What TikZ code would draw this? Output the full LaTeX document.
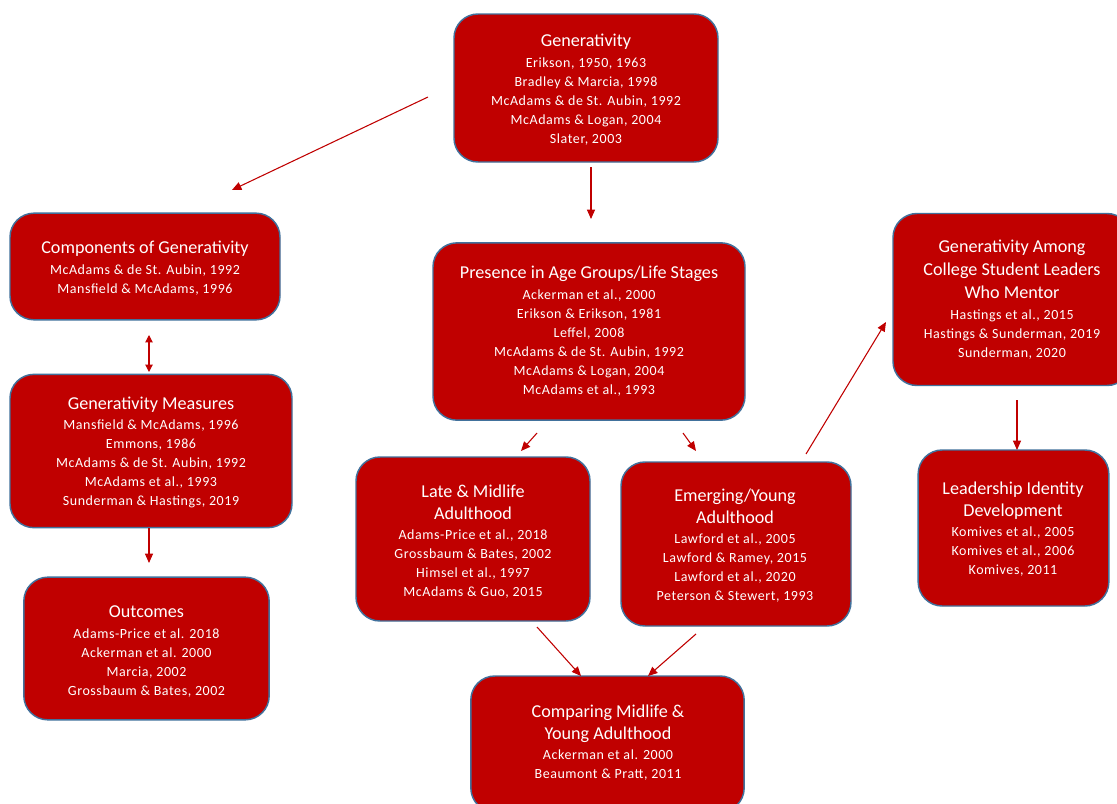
\documentclass[tikz,border=0pt]{standalone}
\usepackage{fontspec}
\setmainfont{Carlito}
\newfontfamily\refspaced{Carlito}[LetterSpace=4]
\usetikzlibrary{arrows.meta}
\definecolor{boxred}{HTML}{C00000}
\definecolor{boxedge}{HTML}{41719C}
\definecolor{arrred}{HTML}{C00000}
\newcommand\ttlfont{\normalfont\fontsize{13.6}{16.5}\selectfont}
\newcommand\reffont{\refspaced\fontsize{10.5}{14.25}\selectfont}
\begin{document}
\begin{tikzpicture}[x=0.75pt,y=-0.75pt,
  box/.style={draw=boxedge, line width=1.1pt, fill=boxred, rounded corners=18pt, inner sep=0pt},
  txt/.style={text=white, align=center, inner sep=0pt, font=\reffont},
  arr/.style={draw=arrred, line width=0.8pt, -{Triangle[length=7pt,width=6pt]}},
  darr/.style={draw=arrred, line width=0.8pt, {Triangle[length=5.5pt,width=5.5pt]}-{Triangle[length=5.5pt,width=5.5pt]}}]
\useasboundingbox[fill=white] (0,0) rectangle (1117,803);

% boxes
\node[box, minimum width=198pt, minimum height=111pt] (gen) at (586,88) {};
\node[box, minimum width=202.5pt, minimum height=80pt] (comp) at (145,266.5) {};
\node[box, minimum width=211.5pt, minimum height=115pt] (meas) at (151,451) {};
\node[box, minimum width=184pt, minimum height=107pt] (out) at (146.5,648.5) {};
\node[box, minimum width=234pt, minimum height=133pt] (pres) at (589,331.5) {};
\node[box, minimum width=175.5pt, minimum height=123pt] (late) at (473,539) {};
\node[box, minimum width=172.5pt, minimum height=123pt] (emer) at (736,544) {};
\node[box, minimum width=205pt, minimum height=102pt] (cmp) at (607.5,744) {};
\node[box, minimum width=178.5pt, minimum height=129pt] (among) at (1012,299.5) {};
\node[box, minimum width=143pt, minimum height=117pt] (lead) at (1013.5,528) {};

% texts
\node[txt] (genT) at (586,89.5) {{\ttlfont Generativity}\\[1pt]
Erikson, 1950, 1963\\ Bradley \& Marcia, 1998\\ McAdams \& de St. Aubin, 1992\\ McAdams \& Logan, 2004\\ Slater, 2003};
\node[txt] (compT) at (145,268) {{\ttlfont Components of Generativity}\\[1pt]
McAdams \& de St. Aubin, 1992\\ Mansfield \& McAdams, 1996};
\node[txt] (measT) at (151,452.5) {{\ttlfont Generativity Measures}\\[1pt]
Mansfield \& McAdams, 1996\\ Emmons, 1986\\ McAdams \& de St. Aubin, 1992\\ McAdams et al., 1993\\ Sunderman \& Hastings, 2019};
\node[txt] (outT) at (146.5,651.5) {{\ttlfont Outcomes}\\[1pt]
Adams-Price et al. 2018\\ Ackerman et al. 2000\\ Marcia, 2002\\ Grossbaum \& Bates, 2002};
\node[txt] (presT) at (589,331) {{\ttlfont Presence in Age Groups/Life Stages}\\[1pt]
Ackerman et al., 2000\\ Erikson \& Erikson, 1981\\ Leffel, 2008\\ McAdams \& de St. Aubin, 1992\\ McAdams \& Logan, 2004\\ McAdams et al., 1993};
\node[txt] (lateT) at (473,541.5) {{\ttlfont Late \& Midlife}\\[2pt]{\ttlfont Adulthood}\\[1pt]
Adams-Price et al., 2018\\ Grossbaum \& Bates, 2002\\ Himsel et al., 1997\\ McAdams \& Guo, 2015};
\node[txt] (emerT) at (735,545.5) {{\ttlfont Emerging/Young}\\[2pt]{\ttlfont Adulthood}\\[1pt]
Lawford et al., 2005\\ Lawford \& Ramey, 2015\\ Lawford et al., 2020\\ Peterson \& Stewert, 1993};
\node[txt] (cmpT) at (608,742.5) {{\ttlfont Comparing Midlife \&}\\[2pt]{\ttlfont Young Adulthood}\\[1pt]
Ackerman et al. 2000\\ Beaumont \& Pratt, 2011};
\node[txt] (amongT) at (1012,299.5) {{\ttlfont Generativity Among}\\[3pt]{\ttlfont College Student Leaders}\\[3pt]{\ttlfont Who Mentor}\\[2pt]
Hastings et al., 2015\\ Hastings \& Sunderman, 2019\\ Sunderman, 2020};
\node[txt] (leadT) at (1013,529) {{\ttlfont Leadership Identity}\\[2pt]{\ttlfont Development}\\[1pt]
Komives et al., 2005\\ Komives et al., 2006\\ Komives, 2011};

% arrow end points
\coordinate (a1s) at (428,97);   \coordinate (a1e) at (232,190);
\coordinate (a2s) at (591,167);  \coordinate (a2e) at (591,219);
\coordinate (a3s) at (149,335);  \coordinate (a3e) at (149,372);
\coordinate (a4s) at (149,528);  \coordinate (a4e) at (149,563);
\coordinate (a5s) at (537,433);  \coordinate (a5e) at (521,451);
\coordinate (a6s) at (683,433);  \coordinate (a6e) at (696,451);
\coordinate (a7s) at (806,454);  \coordinate (a7e) at (886,322);
\coordinate (a8s) at (1017,400); \coordinate (a8e) at (1017,450);
\coordinate (a9s) at (537,627);  \coordinate (a9e) at (581,676);
\coordinate (a10s) at (696,634); \coordinate (a10e) at (648,676);

\draw[arr] (a1s) -- (a1e);
\draw[arr] (a2s) -- (a2e);
\draw[darr] (a3s) -- (a3e);
\draw[arr] (a4s) -- (a4e);
\draw[arr] (a5s) -- (a5e);
\draw[arr] (a6s) -- (a6e);
\draw[arr] (a7s) -- (a7e);
\draw[arr] (a8s) -- (a8e);
\draw[arr] (a9s) -- (a9e);
\draw[arr] (a10s) -- (a10e);
\end{tikzpicture}
\end{document}
